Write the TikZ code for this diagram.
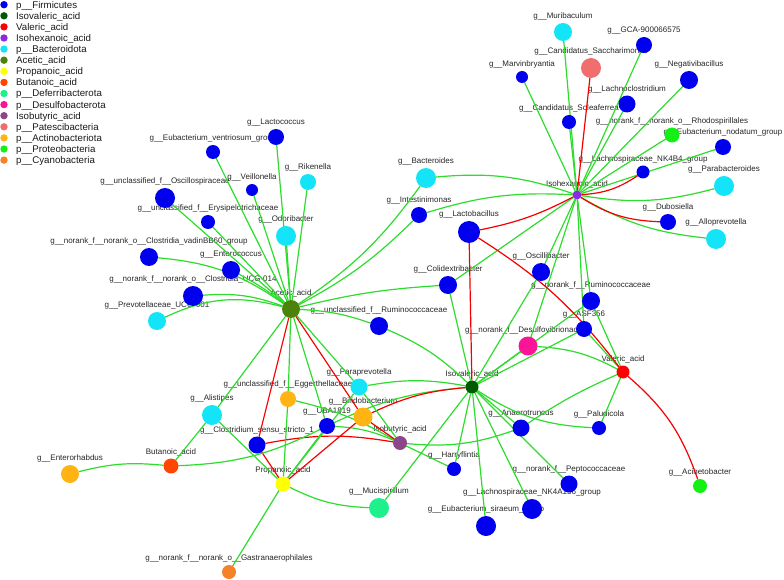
\documentclass[tikz,border=0pt]{standalone}
\usepackage{fontspec}
\setmainfont{Liberation Sans}
\usetikzlibrary{positioning}
\pgfdeclarelayer{labels}
\pgfdeclarelayer{edges}
\pgfsetlayers{labels,edges,main}

\definecolor{firmicutes}{RGB}{0,0,238}
\definecolor{isovalc}{RGB}{0,90,0}
\definecolor{valc}{RGB}{255,0,0}
\definecolor{isohexc}{RGB}{138,43,226}
\definecolor{bacteroidota}{RGB}{20,228,248}
\definecolor{aceticc}{RGB}{75,130,10}
\definecolor{propc}{RGB}{255,255,0}
\definecolor{butc}{RGB}{255,69,0}
\definecolor{deferri}{RGB}{30,240,140}
\definecolor{desulfoc}{RGB}{250,20,150}
\definecolor{isobutc}{RGB}{139,71,137}
\definecolor{patesc}{RGB}{240,110,110}
\definecolor{actino}{RGB}{255,180,20}
\definecolor{proteo}{RGB}{20,240,20}
\definecolor{cyano}{RGB}{245,130,40}
\definecolor{posc}{RGB}{45,220,45}
\definecolor{negc}{RGB}{245,0,0}

\begin{document}
\begin{tikzpicture}[x=1pt, y=-1pt,
  dot/.style={circle, inner sep=0pt, outer sep=0pt},
  tag/.style={font=\fontsize{8}{9}\selectfont, text=black!85, inner sep=0pt,
    text height=6pt, text depth=2pt},
  key/.style={font=\fontsize{9.7}{11}\selectfont, text=black!90, inner sep=0pt, anchor=base west},
  posedge/.style={draw=posc, line width=1.2pt},
  negedge/.style={draw=negc, line width=1.2pt}]
  \useasboundingbox (0,0) rectangle (784,580);

  % legend
  \foreach \c/\t [count=\i from 0] in {firmicutes/p\_\_Firmicutes, isovalc/Isovaleric\_acid,
      valc/Valeric\_acid, isohexc/Isohexanoic\_acid, bacteroidota/p\_\_Bacteroidota,
      aceticc/Acetic\_acid, propc/Propanoic\_acid, butc/Butanoic\_acid,
      deferri/p\_\_Deferribacterota, desulfoc/p\_\_Desulfobacterota, isobutc/Isobutyric\_acid,
      patesc/p\_\_Patescibacteria, actino/p\_\_Actinobacteriota, proteo/p\_\_Proteobacteria,
      cyano/p\_\_Cyanobacteria}{
    \fill[\c] (4,4.7+11.1*\i) circle (3.7);
    \node[key] at (16,8.2+11.1*\i) {\t};
  }

  % acids
  \node[dot, fill=aceticc, minimum size=18pt] (acetic) at (291,309) {};
  \node[dot, fill=isohexc, minimum size=9pt] (isohex) at (577,195) {};
  \node[dot, fill=isovalc, minimum size=13pt] (isoval) at (472,387) {};
  \node[dot, fill=valc, minimum size=13pt] (valeric) at (623,372) {};
  \node[dot, fill=isobutc, minimum size=14pt] (isobut) at (400,443) {};
  \node[dot, fill=propc, minimum size=15pt] (propan) at (283,484) {};
  \node[dot, fill=butc, minimum size=15pt] (butan) at (171,466) {};

  % genera around Acetic_acid
  \node[dot, fill=firmicutes, minimum size=16pt] (lactococcus) at (276,137) {};
  \node[dot, fill=firmicutes, minimum size=14pt] (ventriosum) at (213,152) {};
  \node[dot, fill=bacteroidota, minimum size=16pt] (rikenella) at (308,182) {};
  \node[dot, fill=firmicutes, minimum size=12pt] (veillonella) at (252,190) {};
  \node[dot, fill=firmicutes, minimum size=20pt] (oscillosp) at (165,198) {};
  \node[dot, fill=firmicutes, minimum size=14pt] (erysipelo) at (208,222) {};
  \node[dot, fill=bacteroidota, minimum size=20pt] (odoribacter) at (286,236) {};
  \node[dot, fill=firmicutes, minimum size=18pt] (vadin) at (149,257) {};
  \node[dot, fill=firmicutes, minimum size=18pt] (enterococcus) at (231,270) {};
  \node[dot, fill=firmicutes, minimum size=20pt] (ucg014) at (193,296) {};
  \node[dot, fill=bacteroidota, minimum size=18pt] (prevucg) at (157,321) {};
  \node[dot, fill=bacteroidota, minimum size=20pt] (bacteroides) at (426,178) {};
  \node[dot, fill=firmicutes, minimum size=16pt] (intestinimonas) at (419,215) {};
  \node[dot, fill=firmicutes, minimum size=22pt] (lactobacillus) at (469,232) {};
  \node[dot, fill=firmicutes, minimum size=18pt] (colidextri) at (448,285) {};
  \node[dot, fill=firmicutes, minimum size=18pt] (unclrumino) at (379,326) {};

  % genera around Isohexanoic_acid
  \node[dot, fill=bacteroidota, minimum size=18pt] (muribaculum) at (563,32) {};
  \node[dot, fill=firmicutes, minimum size=16pt] (gca) at (644,45) {};
  \node[dot, fill=patesc, minimum size=20pt] (saccharimonas) at (591,68) {};
  \node[dot, fill=firmicutes, minimum size=12pt] (marvinbryantia) at (522,77) {};
  \node[dot, fill=firmicutes, minimum size=18pt] (negativibacillus) at (689,80) {};
  \node[dot, fill=firmicutes, minimum size=17pt] (lachnoclostridium) at (627,104) {};
  \node[dot, fill=firmicutes, minimum size=14pt] (soleaferrea) at (569,122) {};
  \node[dot, fill=proteo, minimum size=15pt] (rhodospirillales) at (672,135) {};
  \node[dot, fill=firmicutes, minimum size=16pt] (nodatum) at (723,147) {};
  \node[dot, fill=firmicutes, minimum size=13pt] (nkfourbfour) at (643,172) {};
  \node[dot, fill=bacteroidota, minimum size=20pt] (parabacteroides) at (724,186) {};
  \node[dot, fill=firmicutes, minimum size=16pt] (dubosiella) at (668,222) {};
  \node[dot, fill=bacteroidota, minimum size=20pt] (alloprevotella) at (716,239) {};
  \node[dot, fill=firmicutes, minimum size=18pt] (oscillibacter) at (541,272) {};
  \node[dot, fill=firmicutes, minimum size=18pt] (noranrumino) at (591,301) {};
  \node[dot, fill=firmicutes, minimum size=16pt] (asf) at (584,329) {};
  \node[dot, fill=desulfoc, minimum size=19pt] (desulfo) at (528,346) {};

  % genera in the lower half
  \node[dot, fill=bacteroidota, minimum size=20pt] (alistipes) at (212,415) {};
  \node[dot, fill=actino, minimum size=16pt] (eggerthella) at (288,399) {};
  \node[dot, fill=bacteroidota, minimum size=17pt] (paraprevotella) at (359,387) {};
  \node[dot, fill=actino, minimum size=19pt] (bifido) at (363,417) {};
  \node[dot, fill=firmicutes, minimum size=16pt] (uba) at (327,426) {};
  \node[dot, fill=firmicutes, minimum size=17pt] (clostss) at (257,445) {};
  \node[dot, fill=actino, minimum size=18pt] (enterorhabdus) at (70,474) {};
  \node[dot, fill=cyano, minimum size=14pt] (gastran) at (229,572) {};
  \node[dot, fill=deferri, minimum size=20pt] (mucispirillum) at (379,508) {};
  \node[dot, fill=firmicutes, minimum size=14pt] (harryflintia) at (454,469) {};
  \node[dot, fill=firmicutes, minimum size=20pt] (siraeum) at (486,526) {};
  \node[dot, fill=firmicutes, minimum size=20pt] (nkfoura) at (532,509) {};
  \node[dot, fill=firmicutes, minimum size=17pt] (peptococ) at (569,484) {};
  \node[dot, fill=firmicutes, minimum size=17pt] (anaerotruncus) at (521,428) {};
  \node[dot, fill=firmicutes, minimum size=14pt] (paludicola) at (599,428) {};
  \node[dot, fill=proteo, minimum size=14pt] (acinetobacter) at (700,486) {};

  \begin{pgfonlayer}{labels}
    \node[tag, above=2pt of acetic] {Acetic\_acid};
    \node[tag, above=2pt of isohex] {Isohexanoic\_acid};
    \node[tag, above=2pt of isoval] {Isovaleric\_acid};
    \node[tag, above=2pt of valeric] {Valeric\_acid};
    \node[tag, above=2pt of isobut] {Isobutyric\_acid};
    \node[tag, above=2pt of propan] {Propanoic\_acid};
    \node[tag, above=2pt of butan] {Butanoic\_acid};
    \node[tag, above=2pt of lactococcus] {g\_\_Lactococcus};
    \node[tag, above=2pt of ventriosum] {g\_\_Eubacterium\_ventriosum\_group};
    \node[tag, above=2pt of rikenella] {g\_\_Rikenella};
    \node[tag, above=2pt of veillonella] {g\_\_Veillonella};
    \node[tag, above=2pt of oscillosp] {g\_\_unclassified\_f\_\_Oscillospiraceae};
    \node[tag, above=2pt of erysipelo] {g\_\_unclassified\_f\_\_Erysipelotrichaceae};
    \node[tag, above=2pt of odoribacter] {g\_\_Odoribacter};
    \node[tag, above=2pt of vadin] {g\_\_norank\_f\_\_norank\_o\_\_Clostridia\_vadinBB60\_group};
    \node[tag, above=2pt of enterococcus] {g\_\_Enterococcus};
    \node[tag, above=2pt of ucg014] {g\_\_norank\_f\_\_norank\_o\_\_Clostridia\_UCG-014};
    \node[tag, above=2pt of prevucg] {g\_\_Prevotellaceae\_UCG-001};
    \node[tag, above=2pt of bacteroides] {g\_\_Bacteroides};
    \node[tag, above=2pt of intestinimonas] {g\_\_Intestinimonas};
    \node[tag, above=2pt of lactobacillus] {g\_\_Lactobacillus};
    \node[tag, above=2pt of colidextri] {g\_\_Colidextribacter};
    \node[tag, above=2pt of unclrumino] {g\_\_unclassified\_f\_\_Ruminococcaceae};
    \node[tag, above=2pt of muribaculum] {g\_\_Muribaculum};
    \node[tag, above=2pt of gca] {g\_\_GCA-900066575};
    \node[tag, above=2pt of saccharimonas] {g\_\_Candidatus\_Saccharimonas};
    \node[tag, above=2pt of marvinbryantia] {g\_\_Marvinbryantia};
    \node[tag, above=2pt of negativibacillus] {g\_\_Negativibacillus};
    \node[tag, above=2pt of lachnoclostridium] {g\_\_Lachnoclostridium};
    \node[tag, above=2pt of soleaferrea] {g\_\_Candidatus\_Soleaferrea};
    \node[tag, above=2pt of rhodospirillales] {g\_\_norank\_f\_\_norank\_o\_\_Rhodospirillales};
    \node[tag, above=2pt of nodatum] {g\_\_Eubacterium\_nodatum\_group};
    \node[tag, above=2pt of nkfourbfour] {g\_\_Lachnospiraceae\_NK4B4\_group};
    \node[tag, above=2pt of parabacteroides] {g\_\_Parabacteroides};
    \node[tag, above=2pt of dubosiella] {g\_\_Dubosiella};
    \node[tag, above=2pt of alloprevotella] {g\_\_Alloprevotella};
    \node[tag, above=2pt of oscillibacter] {g\_\_Oscillibacter};
    \node[tag, above=2pt of noranrumino] {g\_\_norank\_f\_\_Ruminococcaceae};
    \node[tag, above=2pt of asf] {g\_\_ASF356};
    \node[tag, above=2pt of desulfo] {g\_\_norank\_f\_\_Desulfovibrionaceae};
    \node[tag, above=2pt of alistipes] {g\_\_Alistipes};
    \node[tag, above=2pt of eggerthella] {g\_\_unclassified\_f\_\_Eggerthellaceae};
    \node[tag, above=2pt of paraprevotella] {g\_\_Paraprevotella};
    \node[tag, above=2pt of bifido] {g\_\_Bifidobacterium};
    \node[tag, above=2pt of uba] {g\_\_UBA1819};
    \node[tag, above=2pt of clostss] {g\_\_Clostridium\_sensu\_stricto\_1};
    \node[tag, above=2pt of enterorhabdus] {g\_\_Enterorhabdus};
    \node[tag, above=2pt of gastran] {g\_\_norank\_f\_\_norank\_o\_\_Gastranaerophilales};
    \node[tag, above=2pt of mucispirillum] {g\_\_Mucispirillum};
    \node[tag, above=2pt of harryflintia] {g\_\_Harryflintia};
    \node[tag, above=2pt of siraeum] {g\_\_Eubacterium\_siraeum\_group};
    \node[tag, above=2pt of nkfoura] {g\_\_Lachnospiraceae\_NK4A136\_group};
    \node[tag, above=2pt of peptococ] {g\_\_norank\_f\_\_Peptococcaceae};
    \node[tag, above=2pt of anaerotruncus] {g\_\_Anaerotruncus};
    \node[tag, above=2pt of paludicola] {g\_\_Paludicola};
    \node[tag, above=2pt of acinetobacter] {g\_\_Acinetobacter};
  \end{pgfonlayer}

  \begin{pgfonlayer}{edges}
    % Acetic_acid
    \foreach \g/\b in {lactococcus/0, ventriosum/0, rikenella/0, veillonella/0, oscillosp/0,
        erysipelo/0, odoribacter/0, vadin/-15, enterococcus/-5, ucg014/-12, prevucg/-20,
        bacteroides/-10, intestinimonas/-8, colidextri/5, unclrumino/8, alistipes/0,
        eggerthella/0, uba/0, paraprevotella/0}
      \draw[posedge] (acetic) to[bend left=\b] (\g);
    \foreach \g in {clostss, bifido}
      \draw[negedge] (acetic) -- (\g);
    % Isohexanoic_acid
    \foreach \g/\b in {muribaculum/0, gca/0, marvinbryantia/0, negativibacillus/0,
        lachnoclostridium/0, soleaferrea/0, rhodospirillales/0, nodatum/0,
        parabacteroides/-12, alloprevotella/-12, bacteroides/-12, intestinimonas/-10,
        colidextri/0, oscillibacter/0, noranrumino/0, asf/0, desulfo/0}
      \draw[posedge] (isohex) to[bend left=\b] (\g);
    \foreach \g/\b in {saccharimonas/0, nkfourbfour/-15, dubosiella/-15, lactobacillus/8}
      \draw[negedge] (isohex) to[bend left=\b] (\g);
    % Isovaleric_acid
    \foreach \g/\b in {colidextri/0, oscillibacter/0, noranrumino/0, asf/0, desulfo/0,
        unclrumino/-10, paraprevotella/-10, uba/-10, mucispirillum/0, harryflintia/0,
        siraeum/0, nkfoura/0, peptococ/0, anaerotruncus/0, paludicola/-15}
      \draw[posedge] (isoval) to[bend left=\b] (\g);
    \foreach \g/\b in {lactobacillus/0, bifido/-10}
      \draw[negedge] (isoval) to[bend left=\b] (\g);
    % Valeric_acid
    \foreach \g/\b in {desulfo/-12, asf/0, noranrumino/0, anaerotruncus/-5, paludicola/0}
      \draw[posedge] (valeric) to[bend left=\b] (\g);
    \foreach \g/\b in {lactobacillus/-10, acinetobacter/15}
      \draw[negedge] (valeric) to[bend left=\b] (\g);
    % Isobutyric_acid
    \foreach \g/\b in {paraprevotella/0, uba/-10, eggerthella/-8, harryflintia/0, anaerotruncus/-12}
      \draw[posedge] (isobut) to[bend left=\b] (\g);
    \foreach \g/\b in {clostss/-10, bifido/0}
      \draw[negedge] (isobut) to[bend left=\b] (\g);
    % Propanoic_acid
    \foreach \g/\b in {eggerthella/0, uba/0, paraprevotella/0, alistipes/0, mucispirillum/-12, gastran/0}
      \draw[posedge] (propan) to[bend left=\b] (\g);
    \foreach \g in {clostss, bifido}
      \draw[negedge] (propan) -- (\g);
    % Butanoic_acid
    \foreach \g/\b in {enterorhabdus/-10, alistipes/0, uba/-12}
      \draw[posedge] (butan) to[bend left=\b] (\g);
  \end{pgfonlayer}
\end{tikzpicture}
\end{document}
